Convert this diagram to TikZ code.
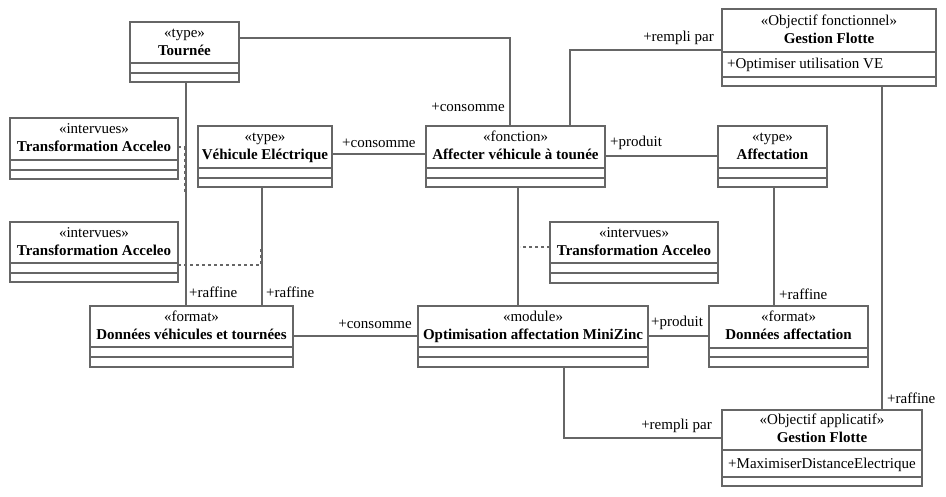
\documentclass[tikz,border=0pt]{standalone}
\usepackage{fontspec}
\setmainfont{Liberation Serif}
\definecolor{linegray}{RGB}{102,102,102}
\tikzset{
  ln/.style={draw=linegray, line width=1.4pt},
  dotln/.style={draw=linegray, line width=1.4pt, dash pattern=on 3pt off 3pt},
  box/.style={ln, rectangle, inner sep=0pt, outer sep=0pt, anchor=north west},
  txt/.style={font=\fontsize{15}{18}\selectfont, inner sep=0pt, anchor=base},
  btxt/.style={font=\fontsize{15}{18}\selectfont\bfseries, inner sep=0pt, anchor=base},
  lblw/.style={font=\fontsize{15}{18}\selectfont, inner sep=0pt, anchor=base west},
  lble/.style={font=\fontsize{15}{18}\selectfont, inner sep=0pt, anchor=base east},
}
% name, x1, y1, x2, y2, sep1, sep2, stereotype, title
\newcommand{\umlbox}[9]{%
  \node[box, minimum width=#4pt-#2pt, minimum height=#5pt-#3pt] (#1) at (#2,#3) {};
  \draw[ln] (#2,#6) -- (#4,#6) (#2,#7) -- (#4,#7);
  \pgfmathsetmacro\hmid{(#3+#6)/2}
  \pgfmathsetmacro\hx{(#2+#4)/2}
  \node[txt] (#1-st) at (\hx,\hmid-5.5) {«#8»};
  \node[btxt] (#1-ti) at (\hx,\hmid+12.5) {#9};
}
\begin{document}
\begin{tikzpicture}[x=1pt, y=-1pt]
\useasboundingbox[fill=white] (0,0) rectangle (946,496);

\umlbox{tournee}{130}{22}{239}{82}{63}{73}{type}{Tournée}
\umlbox{ta1}{10}{118}{178}{179}{160}{170}{intervues}{Transformation Acceleo}
\umlbox{vehicule}{198}{126}{332}{187}{168}{178}{type}{Véhicule Eléctrique}
\umlbox{affecter}{426}{126}{605}{187}{168}{178}{fonction}{Affecter véhicule à tounée}
\umlbox{affectation}{718}{126}{827}{187}{168}{178}{type}{Affectation}
\umlbox{gf}{722}{9}{936}{86}{52}{77}{Objectif fonctionnel}{Gestion Flotte}
\node[lblw] (gf-attr) at (727,68) {+Optimiser utilisation VE};
\umlbox{ta2}{10}{222}{178}{282}{263}{273}{intervues}{Transformation Acceleo}
\umlbox{ta3}{550}{222}{718}{283}{263}{273}{intervues}{Transformation Acceleo}
\umlbox{dvt}{90}{306}{293}{367}{347}{357}{format}{Données véhicules et tournées}
\umlbox{optim}{418}{306}{648}{367}{347}{357}{module}{Optimisation affectation MiniZinc}
\umlbox{da}{709}{306}{868}{367}{348}{357}{format}{Données affectation}
\umlbox{ga}{722}{410}{922}{486}{450}{477}{Objectif applicatif}{Gestion Flotte}
\node[lblw] (ga-attr) at (728,468) {+MaximiserDistanceElectrique};

% connectors
\draw[ln] (tournee.east |- 0,38) -| (affecter.north -| 510,0);
\node[lble] (l1) at (505,111) {+consomme};

\draw[ln] (tournee.south -| 186,0) -- (dvt.north -| 186,0);
\node[lblw] (l2) at (189,297) {+raffine};

\draw[ln] (vehicule.east |- 0,154) -- (affecter.west |- 0,154);
\node[lblw] (l3) at (342,147) {+consomme};

\draw[ln] (vehicule.south -| 262,0) -- (dvt.north -| 262,0);
\node[lblw] (l4) at (266,297) {+raffine};

\draw[ln] (affecter.north -| 570,0) |- (gf.west |- 0,50);
\node[lble] (l5) at (714,41) {+rempli par};

\draw[ln] (affecter.east |- 0,156) -- (affectation.west |- 0,156);
\node[lblw] (l6) at (610,146) {+produit};

\draw[ln] (affecter.south -| 518,0) -- (optim.north -| 518,0);
\coordinate (m3) at (520,247);
\draw[dotln] (ta3.west |- 0,247) -- (m3);

\draw[ln] (affectation.south -| 774,0) -- (da.north -| 774,0);
\node[lblw] (l7) at (779,299) {+raffine};

\draw[ln] (gf.south -| 882,0) -- (ga.north -| 882,0);
\node[lblw] (l8) at (887,403) {+raffine};

\draw[ln] (dvt.east |- 0,336) -- (optim.west |- 0,336);
\node[lble] (l9) at (412,328) {+consomme};

\draw[ln] (optim.east |- 0,336) -- (da.west |- 0,336);
\node[lblw] (l10) at (651,326) {+produit};

\draw[ln] (optim.south -| 564,0) |- (ga.west |- 0,438);
\node[lble] (l11) at (712,429) {+rempli par};

% association-class links
\coordinate (m1) at (184.5,192);
\draw[dotln] (ta1.east |- 0,147) -| (m1);
\coordinate (m2) at (260.5,246);
\draw[dotln] (ta2.east |- 0,265) -| (m2);
\end{tikzpicture}
\end{document}
